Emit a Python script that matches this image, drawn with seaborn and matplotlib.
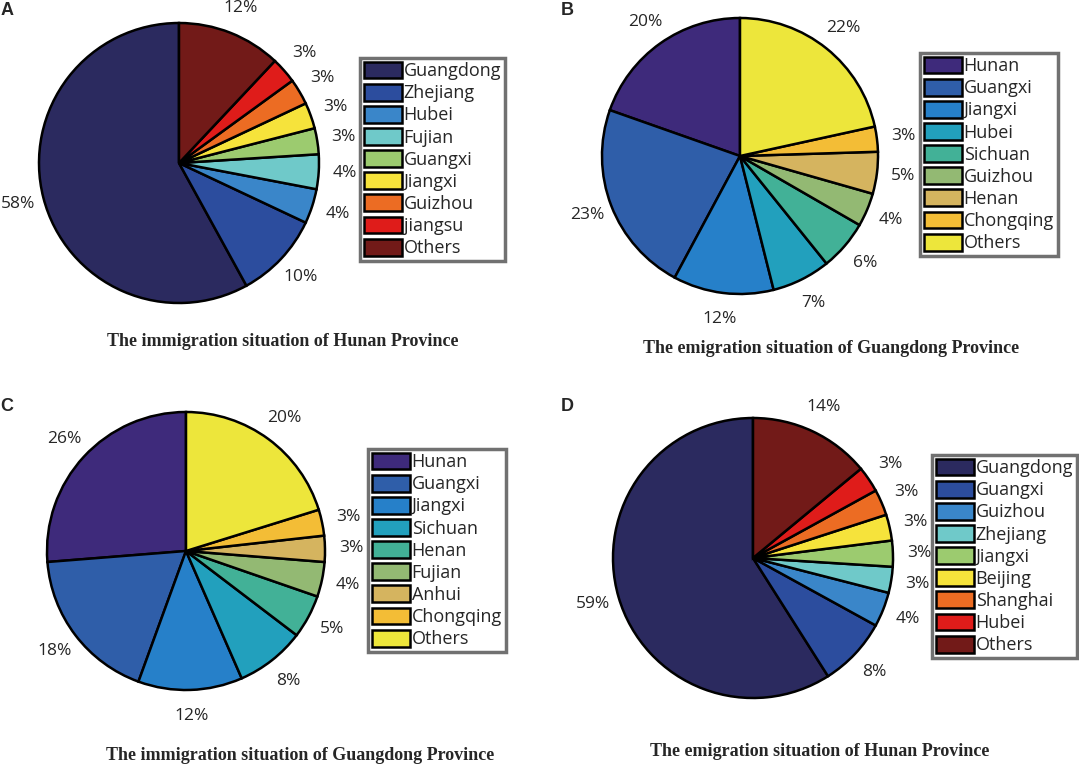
import matplotlib
matplotlib.use("Agg")
import matplotlib.pyplot as plt
import seaborn as sns

sns.set_style("white")
plt.rcParams["font.family"] = ["Open Sans", "DejaVu Sans"]

W, H = 1079, 766

# Panel A: immigration to Hunan
a_names = ["Guangdong", "Zhejiang", "Hubei", "Fujian", "Guangxi",
           "Jiangxi", "Guizhou", "jiangsu", "Others"]
a_values = [58, 10, 4, 4, 3, 3, 3, 3, 12]

# Panel B: emigration from Guangdong
b_names = ["Hunan", "Guangxi", "Jiangxi", "Hubei", "Sichuan",
           "Guizhou", "Henan", "Chongqing", "Others"]
b_values = [20, 23, 12, 7, 6, 4, 5, 3, 22]

# Panel C: immigration to Guangdong
c_names = ["Hunan", "Guangxi", "Jiangxi", "Sichuan", "Henan",
           "Fujian", "Anhui", "Chongqing", "Others"]
c_values = [26, 18, 12, 8, 5, 4, 3, 3, 20]

# Panel D: emigration from Hunan
d_names = ["Guangdong", "Guangxi", "Guizhou", "Zhejiang", "Jiangxi",
           "Beijing", "Shanghai", "Hubei", "Others"]
d_values = [59, 8, 4, 3, 3, 3, 3, 3, 14]

warm_colors = sns.color_palette(["#2b2a5f", "#2c4d9e", "#3a86c9", "#6fc9c9", "#9ccb6f",
                                 "#f6e33b", "#ec6c23", "#df1c1a", "#721a18"])
cool_colors = sns.color_palette(["#3e2a7b", "#2f5ea9", "#2680c9", "#22a0bd", "#42b197",
                                 "#93b973", "#d5b45f", "#f3bd36", "#ede63b"])


def add_panel(fig, letter, letter_xy, center, r, values, names, colors,
              legend_xy, caption, caption_xy):
    cx, cy = center
    s = 1.03
    ax = fig.add_axes([(cx - r * s) / W, 1 - (cy + r * s) / H, 2 * r * s / W, 2 * r * s / H])
    wedges, texts = ax.pie(
        values,
        colors=colors,
        labels=[f"{v}%" for v in values],
        startangle=90,
        counterclock=True,
        labeldistance=1.19,
        wedgeprops=dict(edgecolor="black", linewidth=1.8),
        textprops=dict(fontsize=12.5),
    )
    for t in texts:
        t.set_ha("center")
        t.set_va("center")
    ax.set_xlim(-s, s)
    ax.set_ylim(-s, s)
    ax.set_aspect("equal")
    ax.axis("off")

    leg = fig.legend(
        wedges, names,
        loc="upper left",
        bbox_to_anchor=(legend_xy[0] / W, 1 - legend_xy[1] / H),
        fontsize=13,
        frameon=True,
        fancybox=False,
        edgecolor="#4d4d4d",
        handlelength=2.1,
        handleheight=1.05,
        labelspacing=0.2,
        handletextpad=0.12,
        borderpad=0.2,
        borderaxespad=0,
    )
    leg.get_frame().set_linewidth(2.5)

    fig.text(caption_xy[0] / W, 1 - caption_xy[1] / H, caption, ha="center", va="center",
             family="Liberation Serif", weight="bold", fontsize=13)
    fig.text(letter_xy[0] / W, 1 - letter_xy[1] / H, letter, ha="left", va="top",
             family="Liberation Sans", weight="bold", fontsize=13)


fig = plt.figure(figsize=(W / 100, H / 100), dpi=100)

add_panel(fig, "A", (1, 2), (179, 163), 140, a_values, a_names, warm_colors,
          (360, 58), "The immigration situation of Hunan Province", (283, 342))
add_panel(fig, "B", (561, 2), (740, 156), 138, b_values, b_names, cool_colors,
          (920, 53), "The emigration situation of Guangdong Province", (831, 348))
add_panel(fig, "C", (0, 398), (186, 551), 139, c_values, c_names, cool_colors,
          (368, 449), "The immigration situation of Guangdong Province", (300, 755))
add_panel(fig, "D", (561, 398), (753, 558), 140, d_values, d_names, warm_colors,
          (932, 455), "The emigration situation of Hunan Province", (820, 752))

fig.savefig("out.png", dpi=100)
